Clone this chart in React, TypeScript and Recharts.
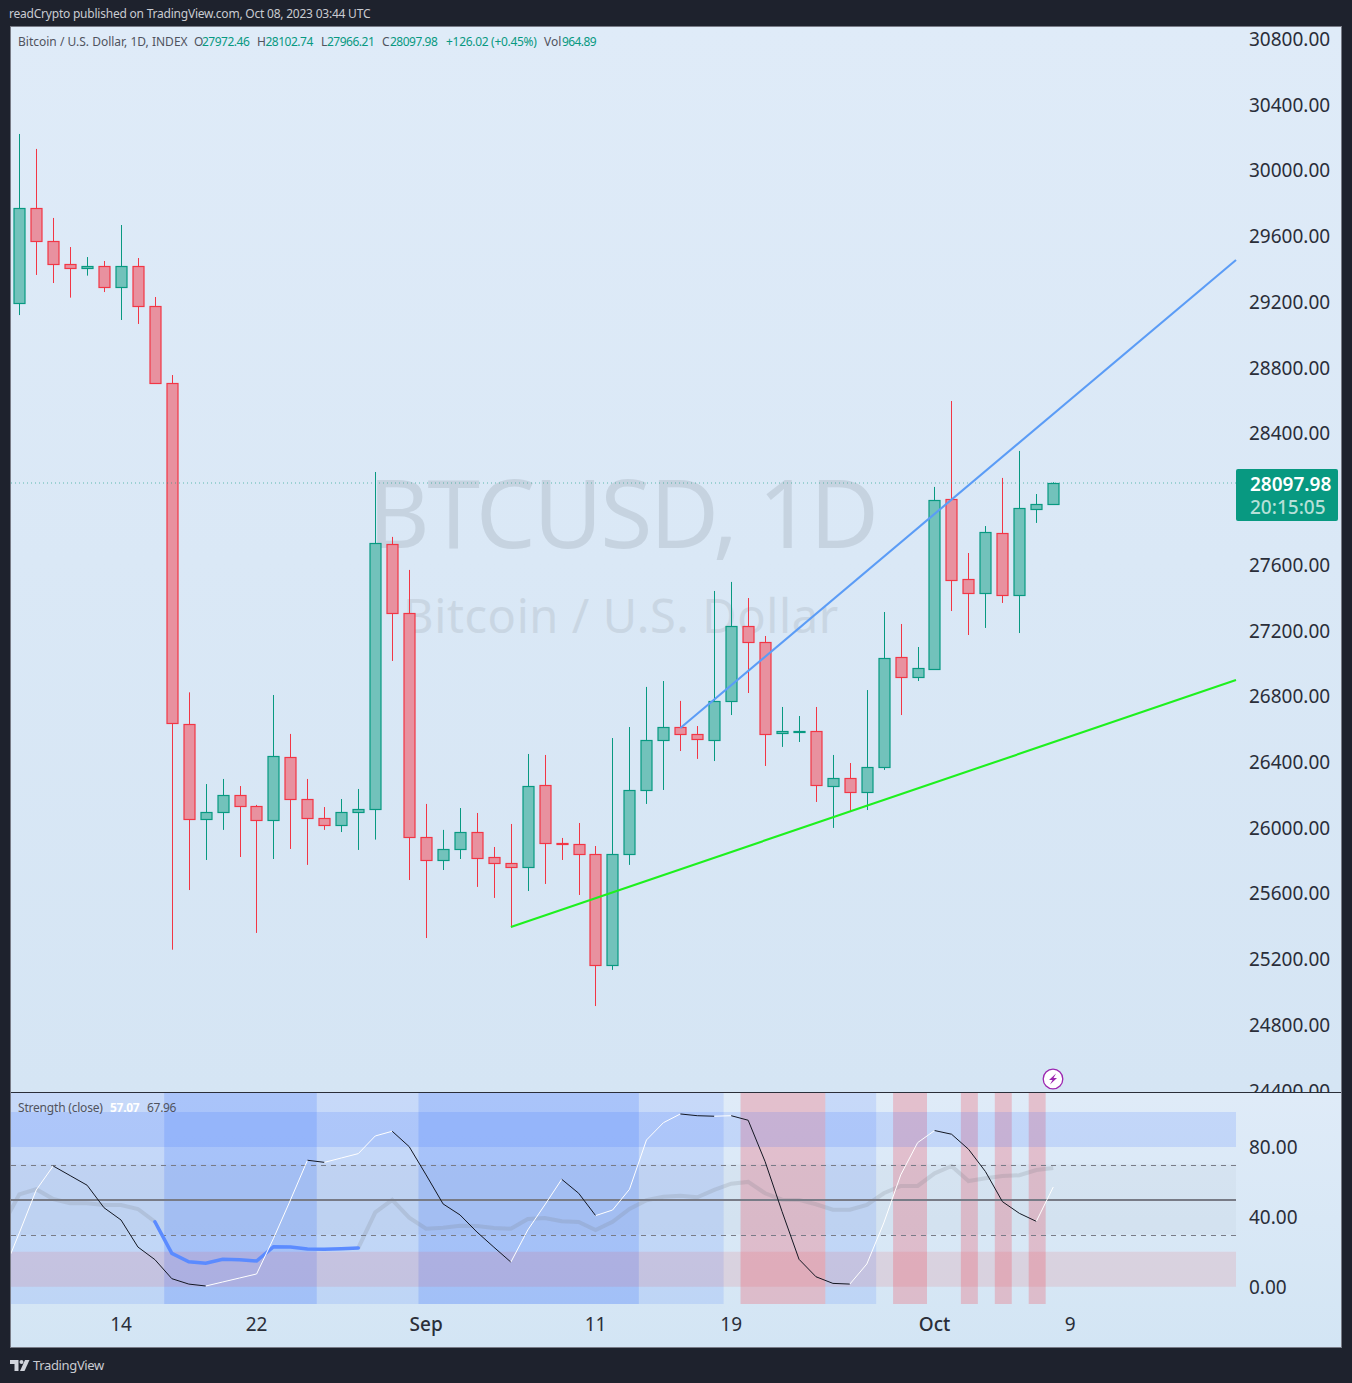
import {
  Bar,
  ComposedChart,
  Line,
  ReferenceArea,
  ReferenceLine,
  XAxis,
  YAxis,
} from 'recharts'

const opens = [
  29192, 29770, 29569, 29429, 29405, 29417, 29289, 29417, 29173, 28705, 26630, 26052, 26094, 26198, 26131, 26046,
  26429, 26173, 26058, 26015, 26094, 26113, 27725, 27305, 25942, 25802, 25869, 25973, 25820, 25784, 25760, 26259,
  25906, 25900, 25839, 25163, 25839, 26228, 26532, 26611, 26568, 26532, 26770, 27226, 27129, 26575, 26582, 26587,
  26252, 26301, 26216, 26368, 27037, 26916, 26964, 27999, 27512, 27427, 27792, 27415, 27938, 27972.46,
]
const highs = [
  30222, 30131, 29711, 29534, 29473, 29449, 29668, 29467, 29230, 28755, 26824, 26266, 26297, 26254, 26139, 26808,
  26571, 26297, 26126, 26175, 26236, 28165, 27770, 27569, 26145, 25987, 26120, 26090, 25883, 26023, 26449, 26443,
  25938, 26029, 25889, 26546, 26613, 26857, 26893, 26772, 26619, 27441, 27496, 27398, 27167, 26735, 26680, 26735,
  26443, 26394, 26838, 27313, 27240, 27100, 28074, 28597, 27672, 27836, 28129, 28293, 28031, 28102.74,
]
const lows = [
  29120, 29364, 29315, 29226, 29360, 29260, 29090, 29066, 28705, 25258, 25621, 25804, 25987, 25822, 25360, 25810,
  25871, 25774, 25987, 25974, 25865, 25928, 27015, 25682, 25329, 25743, 25810, 25640, 25573, 25394, 25615, 25658,
  25804, 25591, 24915, 25135, 25774, 26145, 26230, 26467, 26419, 26406, 26686, 26820, 26376, 26492, 26522, 26157,
  25999, 26096, 26108, 26352, 26686, 26893, 26964, 27319, 27173, 27216, 27368, 27185, 27855, 27966.21,
]
const closes = [
  29770, 29569, 29429, 29405, 29417, 29289, 29417, 29173, 28705, 26636, 26052, 26094, 26198, 26131, 26046, 26435,
  26173, 26058, 26015, 26094, 26113, 27731, 27305, 25942, 25802, 25869, 25973, 25814, 25784, 25760, 26252, 25906,
  25900, 25839, 25163, 25839, 26228, 26532, 26611, 26568, 26538, 26770, 27226, 27129, 26568, 26587, 26587, 26259,
  26301, 26216, 26368, 27031, 26916, 26970, 27993, 27506, 27427, 27798, 27415, 27944, 27968, 28097.98,
]

// first value belongs to the day before the first candle, it only shows as the line entering the pane
const strength = [
  7, 30.8, 55.4, 69.1, 63.6, 58.1, 45.2, 38.2, 22.7, 15.5, 4.6, 1.5, 0.4, 2.7, 5, 7.3, 27.7, 49.7, 72.4, 71.2, 73.7,
  76.2, 86.3, 89, 80.2, 64, 47.4, 41.1, 31.3, 22.6, 14.1, 32.5, 46.8, 61.5, 53.5, 40.7, 43.9, 55.8, 84, 93.9, 98.9,
  97.9, 97.6, 97.9, 95.3, 71.6, 43, 15.7, 5.7, 1.9, 1.5, 13, 36.5, 64, 82.5, 89.4, 87.3, 78.7, 65.9, 48.7, 42, 37.4,
  57.07,
]
const signal = [
  34.8, 52.9, 55.8, 50.2, 47.8, 47.8, 46.8, 46.8, 44.5, 37.2, 19.1, 14.3, 13.4, 15.7, 15.5, 14.7, 22.9, 22.7, 21.6,
  21.4, 21.8, 22.2, 42.6, 49.7, 39.5, 33.2, 33.8, 34.9, 34.8, 33.6, 33.2, 38.8, 39.3, 37.5, 37.1, 32.5, 37.2, 44.5,
  49.5, 51.5, 52.1, 51.2, 55.4, 59, 60, 53.5, 49.8, 49.7, 47.2, 44.1, 44.1, 46.8, 53.5, 57.7, 57.7, 64.9, 69.1, 60.5,
  62.1, 63.4, 63.8, 66.8, 67.96,
]

// 28000 sits under the last price tag in the original, so it is left out
const priceTicks = [
  24400, 24800, 25200, 25600, 26000, 26400, 26800, 27200, 27600, 28400, 28800, 29200, 29600, 30000, 30400, 30800,
]
const strengthTicks = [0, 40, 80]
const dateTicks = [6, 14, 24, 34, 42, 54, 62]
const dateLabels = ['14', '22', 'Sep', '11', '19', 'Oct', '9']

const blueTrend = [{ x: 39, y: 26607 }, { x: 71.78, y: 29455 }]
const greenTrend = [{ x: 29, y: 25396 }, { x: 71.78, y: 26899 }]

const lightBlueDays = [[0, 41], [48, 50]]
const strongBlueDays = [[9, 17], [24, 36]]
const redDays = [[43, 47], [52, 53], [56, 56], [58, 58], [60, 60]]
const signalBlueDays = [8, 20]

const X_DOMAIN = [-0.49, 71.78]
const LAST_PRICE = 28097.98
const FONT = '"Noto Sans", sans-serif'
const TEXT = '#2a2e39'
const UP = '#089981'
const DOWN = '#f23645'

const candles = opens.map((open, i) => ({ idx: i, open, high: highs[i], low: lows[i], close: closes[i] }))

// the thin line flips black/white with its direction, so every run is its own series
const runs: { from: number; to: number; rising: boolean }[] = []
for (let i = 1; i < strength.length; i++) {
  const rising = strength[i] > strength[i - 1]
  const last = runs[runs.length - 1]
  if (last && last.rising === rising) last.to = i
  else runs.push({ from: i - 1, to: i, rising })
}

const paneRows = strength.map((value, i) => {
  const idx = i - 1
  const row: Record<string, number | null> = {
    idx,
    grey: idx <= signalBlueDays[0] || idx >= signalBlueDays[1] ? signal[i] : null,
    blue: idx >= signalBlueDays[0] && idx <= signalBlueDays[1] ? signal[i] : null,
  }
  runs.forEach((run, k) => {
    row[`run${k}`] = i >= run.from && i <= run.to ? value : null
  })
  return row
})

function Candle({ x, y, width, height, payload }: any) {
  const { open, high, low, close } = payload
  const top = Math.min(y, y + height)
  const unit = Math.abs(height) / (high - low)
  const toY = (v: number) => top + (high - v) * unit
  const rising = close >= open
  const cx = Math.round(x + width / 2 + 0.35) + 0.5
  const bodyTop = Math.round(toY(Math.max(open, close))) + 0.5
  const bodyBottom = Math.round(toY(Math.min(open, close))) + 0.5
  const stroke = rising ? UP : DOWN
  return (
    <g>
      <line x1={cx} x2={cx} y1={toY(high)} y2={toY(low)} stroke={stroke} strokeWidth={1} />
      <rect
        x={cx - 5.5}
        y={bodyTop}
        width={11}
        height={Math.max(bodyBottom - bodyTop, 1)}
        fill={rising ? '#72c2bb' : '#e8919f'}
        stroke={stroke}
        strokeWidth={1.2}
      />
    </g>
  )
}

function LastPriceTag({ viewBox }: any) {
  const left = viewBox.x + viewBox.width
  const y = viewBox.y
  return (
    <g fontFamily={FONT}>
      <rect x={left} y={y - 14} width={102} height={52} rx={2} fill={UP} />
      <text x={left + 14} y={y + 8} fill="#ffffff" fontSize={19} fontWeight={600}>{LAST_PRICE.toFixed(2)}</text>
      <text x={left + 14} y={y + 31} fill="#b5e0d8" fontSize={19} fontWeight={500}>20:15:05</text>
    </g>
  )
}

function ValueTick({ x, y, payload }: any) {
  return (
    <text x={x + 11} y={y + 7} fill={TEXT} fontSize={19} fontFamily={FONT}>
      {payload.value.toFixed(2)}
    </text>
  )
}

function DateTick({ x, y, payload }: any) {
  const label = dateLabels[dateTicks.indexOf(payload.value)]
  const strong = label === 'Sep' || label === 'Oct'
  return (
    <text x={x} y={y + 19} textAnchor="middle" fill={TEXT} fontSize={19} fontFamily={FONT} fontWeight={strong ? 500 : 400}>
      {label}
    </text>
  )
}

function Txt({ x, y, size = 12, color = '#50535e', weight = 400, spacing = 0, children }: any) {
  return (
    <span
      style={{
        position: 'absolute',
        left: x,
        top: y,
        fontSize: size,
        lineHeight: '16px',
        color,
        fontWeight: weight,
        letterSpacing: spacing,
        whiteSpace: 'nowrap',
        fontFamily: FONT,
      }}
    >
      {children}
    </span>
  )
}

export default function App() {
  return (
    <div style={{ position: 'absolute', left: 0, top: 0, width: 1352, height: 1383, background: '#1e222d', overflow: 'hidden' }}>
      <Txt x={9} y={6} color="#c9cbd1" spacing={-0.22}>readCrypto published on TradingView.com, Oct 08, 2023 03:44 UTC</Txt>

      {/* pane backgrounds */}
      <div style={{ position: 'absolute', left: 10, top: 26, width: 1332, height: 1322, boxSizing: 'border-box', border: '1px solid #787b86' }} />
      <div style={{ position: 'absolute', left: 11, top: 27, width: 1330, height: 1065, background: 'linear-gradient(#dfebf8,#d5e5f4)' }} />
      <div style={{ position: 'absolute', left: 11, top: 1093, width: 1330, height: 254, background: 'linear-gradient(#dfebf8,#d3e5f4)' }} />
      <div style={{ position: 'absolute', left: 11, top: 1092, width: 1330, height: 1, background: '#2a2e39' }} />

      {/* watermark */}
      <div style={{ position: 'absolute', left: 368, top: 446, fontSize: 95, lineHeight: '130px', color: '#c6d3e0', fontFamily: FONT, whiteSpace: 'nowrap', letterSpacing: -2.5 }}>
        BTCUSD, 1D
      </div>
      <div style={{ position: 'absolute', left: 403, top: 585, fontSize: 47, lineHeight: '60px', color: '#c9d6e3', fontFamily: FONT, whiteSpace: 'nowrap', letterSpacing: 0.6 }}>
        Bitcoin / U.S. Dollar
      </div>

      <div style={{ position: 'absolute', left: 11, top: 27 }}>
        <ComposedChart width={1330} height={1065} data={candles} margin={{ top: 0, right: 0, bottom: 0, left: 0 }}>
          <XAxis dataKey="idx" type="number" domain={X_DOMAIN} allowDataOverflow hide />
          <YAxis
            orientation="right"
            width={105}
            domain={[24392, 30873]}
            allowDataOverflow
            ticks={priceTicks}
            interval={0}
            axisLine={false}
            tickLine={false}
            tickSize={0}
            tick={<ValueTick />}
          />
          <ReferenceLine y={LAST_PRICE} stroke={UP} strokeOpacity={0.6} strokeDasharray="1 3" label={<LastPriceTag />} />
          <Bar dataKey={(r: any) => [r.low, r.high]} barSize={12} shape={<Candle />} isAnimationActive={false} />
          <ReferenceLine segment={blueTrend} stroke="#5b9cf6" strokeWidth={2.1} ifOverflow="visible" />
          <ReferenceLine segment={greenTrend} stroke="#1ef01e" strokeWidth={2.1} ifOverflow="visible" />
        </ComposedChart>
      </div>

      <div style={{ position: 'absolute', left: 11, top: 1093 }}>
        <ComposedChart width={1330} height={255} data={paneRows} margin={{ top: 0, right: 0, bottom: 0, left: 0 }}>
          <XAxis
            dataKey="idx"
            type="number"
            domain={X_DOMAIN}
            allowDataOverflow
            ticks={dateTicks}
            interval={0}
            height={44}
            axisLine={false}
            tickLine={false}
            tick={<DateTick />}
          />
          <YAxis
            orientation="right"
            width={105}
            domain={[-9.9, 110.9]}
            allowDataOverflow
            ticks={strengthTicks}
            interval={0}
            axisLine={false}
            tickLine={false}
            tickSize={0}
            tick={<ValueTick />}
          />
          {lightBlueDays.map(([a, b]) => (
            <ReferenceArea key={`l${a}`} x1={a === 0 ? X_DOMAIN[0] : a - 0.45} x2={b + 0.55} fill="#2962ff" fillOpacity={0.13} stroke="none" ifOverflow="visible" />
          ))}
          {strongBlueDays.map(([a, b]) => (
            <ReferenceArea key={`s${a}`} x1={a - 0.45} x2={b + 0.55} fill="#2962ff" fillOpacity={0.18} stroke="none" ifOverflow="visible" />
          ))}
          {redDays.map(([a, b]) => (
            <ReferenceArea key={`r${a}`} x1={a - 0.45} x2={b + 0.55} fill={DOWN} fillOpacity={0.24} stroke="none" ifOverflow="visible" />
          ))}
          <ReferenceArea y1={80} y2={100} fill="#2962ff" fillOpacity={0.15} stroke="none" ifOverflow="visible" />
          <ReferenceArea y1={30} y2={70} fill="#787b86" fillOpacity={0.05} stroke="none" ifOverflow="visible" />
          <ReferenceArea y1={0} y2={20} fill={DOWN} fillOpacity={0.12} stroke="none" ifOverflow="visible" />
          <ReferenceLine y={69.4} stroke="#787b86" strokeDasharray="5 5" />
          <ReferenceLine y={49.64} stroke="#787b86" strokeWidth={2} />
          <ReferenceLine y={29.32} stroke="#787b86" strokeDasharray="5 5" />
          <Line dataKey="grey" stroke="#787b86" strokeOpacity={0.2} strokeWidth={4} dot={false} activeDot={false} isAnimationActive={false} />
          <Line dataKey="blue" stroke="#5b8bff" strokeWidth={3.5} strokeLinecap="round" dot={false} activeDot={false} isAnimationActive={false} />
          {runs.map((run, k) => (
            <Line
              key={k}
              dataKey={`run${k}`}
              stroke={run.rising ? '#ffffff' : '#131722'}
              strokeWidth={1}
              dot={false}
              activeDot={false}
              isAnimationActive={false}
            />
          ))}
        </ComposedChart>
      </div>

      {/* legends */}
      <Txt x={18} y={33.5}>Bitcoin / U.S. Dollar, 1D, INDEX</Txt>
      <Txt x={194} y={33.5}>O</Txt>
      <Txt x={202} y={33.5} color={UP} spacing={-0.5}>27972.46</Txt>
      <Txt x={257} y={33.5}>H</Txt>
      <Txt x={265.5} y={33.5} color={UP} spacing={-0.5}>28102.74</Txt>
      <Txt x={321} y={33.5}>L</Txt>
      <Txt x={327} y={33.5} color={UP} spacing={-0.5}>27966.21</Txt>
      <Txt x={382} y={33.5}>C</Txt>
      <Txt x={390} y={33.5} color={UP} spacing={-0.5}>28097.98</Txt>
      <Txt x={446} y={33.5} color={UP} spacing={-0.3}>+126.02 (+0.45%)</Txt>
      <Txt x={544} y={33.5}>Vol</Txt>
      <Txt x={562} y={33.5} color={UP} spacing={-0.6}>964.89</Txt>

      <Txt x={18} y={1100} spacing={-0.2}>Strength (close)</Txt>
      <Txt x={110} y={1100} color="#ffffff" weight={700} spacing={-0.3}>57.07</Txt>
      <Txt x={147} y={1100} spacing={-0.3}>67.96</Txt>

      {/* event marker */}
      <svg style={{ position: 'absolute', left: 1042, top: 1068 }} width={22} height={22}>
        <circle cx={11} cy={11} r={9.8} fill="#ffffff" stroke="#9c27b0" strokeWidth={1.3} />
        <path d="M14 5.5 L7 12 H10.5 L8 16.5 L15 10 H11.5 Z" fill="#9c27b0" />
      </svg>

      {/* footer logo */}
      <svg style={{ position: 'absolute', left: 10, top: 1359 }} width={20} height={13}>
        <path d="M0 1 H8.5 V12 H4.5 V5 H0 Z" fill="#d1d4dc" />
        <circle cx={11.5} cy={3} r={2} fill="#d1d4dc" />
        <path d="M15 1 H19.5 L14.5 12 H10 Z" fill="#d1d4dc" />
      </svg>
      <Txt x={33} y={1357} size={13} color="#c9cbd1" spacing={-0.35}>TradingView</Txt>
    </div>
  )
}
